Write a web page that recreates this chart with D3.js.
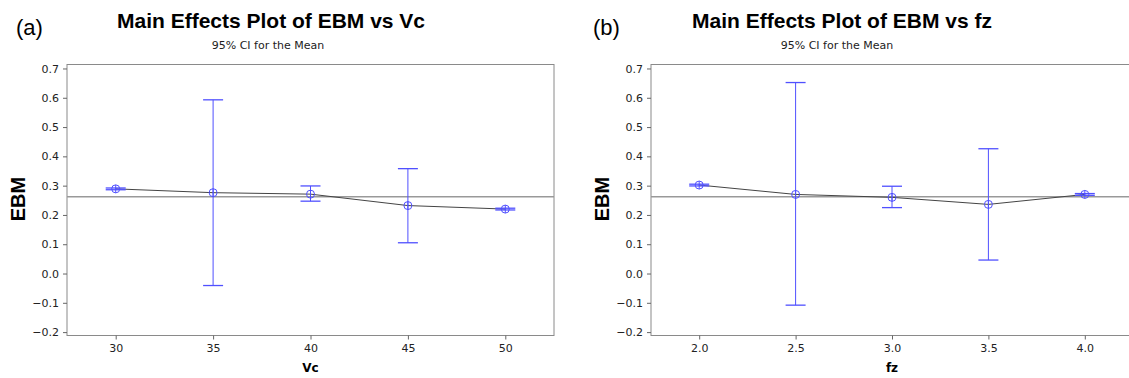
<!DOCTYPE html>
<html>
<head>
<meta charset="utf-8">
<script src="https://cdn.jsdelivr.net/npm/d3@7"></script>
<style>
  html, body { margin: 0; padding: 0; background: #fff; }
  svg { display: block; }
</style>
</head>
<body>
<svg id="chart" width="1129" height="378"></svg>
<script>
// ---- Data ----
const yTicks = [-0.2, -0.1, 0.0, 0.1, 0.2, 0.3, 0.4, 0.5, 0.6, 0.7];

const vcLevels = [30, 35, 40, 45, 50];
const vcMean   = [0.289, 0.276, 0.271, 0.232, 0.220];
const vcLower  = [0.286, -0.041, 0.247, 0.105, 0.217];
const vcUpper  = [0.292, 0.593, 0.299, 0.358, 0.223];
const vcGrandMean = 0.262;

const fzLevels = [2.0, 2.5, 3.0, 3.5, 4.0];
const fzMean   = [0.302, 0.270, 0.260, 0.236, 0.270];
const fzLower  = [0.299, -0.108, 0.225, 0.046, 0.267];
const fzUpper  = [0.305, 0.652, 0.298, 0.426, 0.273];
const fzGrandMean = 0.262;

const panels = [
  { tag: "(a)", title: "Main Effects Plot of EBM vs Vc", xLabel: "Vc",
    levels: vcLevels, mean: vcMean, lower: vcLower, upper: vcUpper, grand: vcGrandMean,
    xDomain: [27.5, 52.5], fmt: d3.format("d"),
    left: 67, right: 554, tagX: 16, titleX: 271, subX: 268, yLabX: 18 },
  { tag: "(b)", title: "Main Effects Plot of EBM vs fz", xLabel: "fz",
    levels: fzLevels, mean: fzMean, lower: fzLower, upper: fzUpper, grand: fzGrandMean,
    xDomain: [1.75, 4.25], fmt: d3.format(".1f"),
    left: 651, right: 1133, tagX: 593, titleX: 842, subX: 837, yLabX: 602 }
];

const svg = d3.select("#chart");
const plotTop = 64.5, plotBottom = 335.5;
const blue = "#5050ff";
const font = "'Liberation Sans', Arial, sans-serif";
const tickFont = "'DejaVu Sans', Verdana, sans-serif";

panels.forEach(p => {
  const g = svg.append("g");
  const x = d3.scaleLinear().domain(p.xDomain).range([p.left, p.right]);
  const y = d3.scaleLinear().domain([-0.2116, 0.7136]).range([plotBottom, plotTop]);

  // Tag, title, subtitle
  g.append("text").attr("x", p.tagX).attr("y", 35)
    .attr("font-family", font).attr("font-size", 22).attr("fill", "#000").text(p.tag);
  g.append("text").attr("x", p.titleX).attr("y", 27.5).attr("text-anchor", "middle")
    .attr("font-family", font).attr("font-weight", "bold").attr("font-size", 21)
    .attr("fill", "#000").text(p.title);
  g.append("text").attr("x", p.subX).attr("y", 48.5).attr("text-anchor", "middle")
    .attr("font-family", tickFont).attr("font-size", 11)
    .attr("fill", "#222").text("95% CI for the Mean");

  // Frame
  g.append("rect").attr("x", p.left).attr("y", plotTop)
    .attr("width", p.right - p.left).attr("height", plotBottom - plotTop)
    .attr("fill", "none").attr("stroke", "#8a8a8a").attr("stroke-width", 1);

  // Y axis
  const ya = g.append("g").attr("transform", `translate(${p.left},0)`)
    .call(d3.axisLeft(y).tickValues(yTicks).tickFormat(d3.format(".1f")).tickSize(4).tickPadding(4));
  ya.select(".domain").remove();
  ya.selectAll(".tick line").attr("stroke", "#666");
  ya.selectAll(".tick text").attr("font-family", tickFont).attr("font-size", 11).attr("fill", "#222");

  // X axis
  const xa = g.append("g").attr("transform", `translate(0,${plotBottom})`)
    .call(d3.axisBottom(x).tickValues(p.levels).tickFormat(p.fmt).tickSize(4).tickPadding(5));
  xa.select(".domain").remove();
  xa.selectAll(".tick line").attr("stroke", "#666");
  xa.selectAll(".tick text").attr("font-family", tickFont).attr("font-size", 11).attr("fill", "#222");

  // Axis labels
  g.append("text").attr("x", x((p.xDomain[0] + p.xDomain[1]) / 2)).attr("y", 372)
    .attr("text-anchor", "middle").attr("font-family", tickFont).attr("font-weight", "bold")
    .attr("font-size", 12).attr("fill", "#000").text(p.xLabel);
  g.append("text").attr("transform", `translate(${p.yLabX + 7},${199}) rotate(-90)`)
    .attr("text-anchor", "middle").attr("font-family", font).attr("font-weight", "bold")
    .attr("font-size", 20).attr("fill", "#000").text("EBM");

  // Grand mean reference line
  g.append("line").attr("x1", p.left).attr("x2", p.right)
    .attr("y1", y(p.grand)).attr("y2", y(p.grand))
    .attr("stroke", "#999").attr("stroke-width", 1.5);

  const rows = p.levels.map((lv, i) => ({ lv, m: p.mean[i], lo: p.lower[i], hi: p.upper[i] }));

  // Mean connecting line
  g.append("path").datum(rows)
    .attr("d", d3.line().x(d => x(d.lv)).y(d => y(d.m)))
    .attr("fill", "none").attr("stroke", "#444").attr("stroke-width", 1);

  // CI bars
  const cap = 10;
  const eb = g.selectAll(".eb").data(rows).enter().append("g").attr("class", "eb");
  eb.append("line").attr("x1", d => x(d.lv)).attr("x2", d => x(d.lv))
    .attr("y1", d => y(d.lo)).attr("y2", d => y(d.hi))
    .attr("stroke", blue).attr("stroke-width", 1);
  eb.append("line").attr("x1", d => x(d.lv) - cap).attr("x2", d => x(d.lv) + cap)
    .attr("y1", d => y(d.hi)).attr("y2", d => y(d.hi))
    .attr("stroke", blue).attr("stroke-width", 1.3);
  eb.append("line").attr("x1", d => x(d.lv) - cap).attr("x2", d => x(d.lv) + cap)
    .attr("y1", d => y(d.lo)).attr("y2", d => y(d.lo))
    .attr("stroke", blue).attr("stroke-width", 1.3);
  eb.append("circle").attr("cx", d => x(d.lv)).attr("cy", d => y(d.m)).attr("r", 4)
    .attr("fill", "none").attr("stroke", blue).attr("stroke-width", 1);
  eb.append("line").attr("x1", d => x(d.lv)).attr("x2", d => x(d.lv))
    .attr("y1", d => y(d.m) - 4).attr("y2", d => y(d.m) + 4)
    .attr("stroke", blue).attr("stroke-width", 1);
});
</script>
</body>
</html>
